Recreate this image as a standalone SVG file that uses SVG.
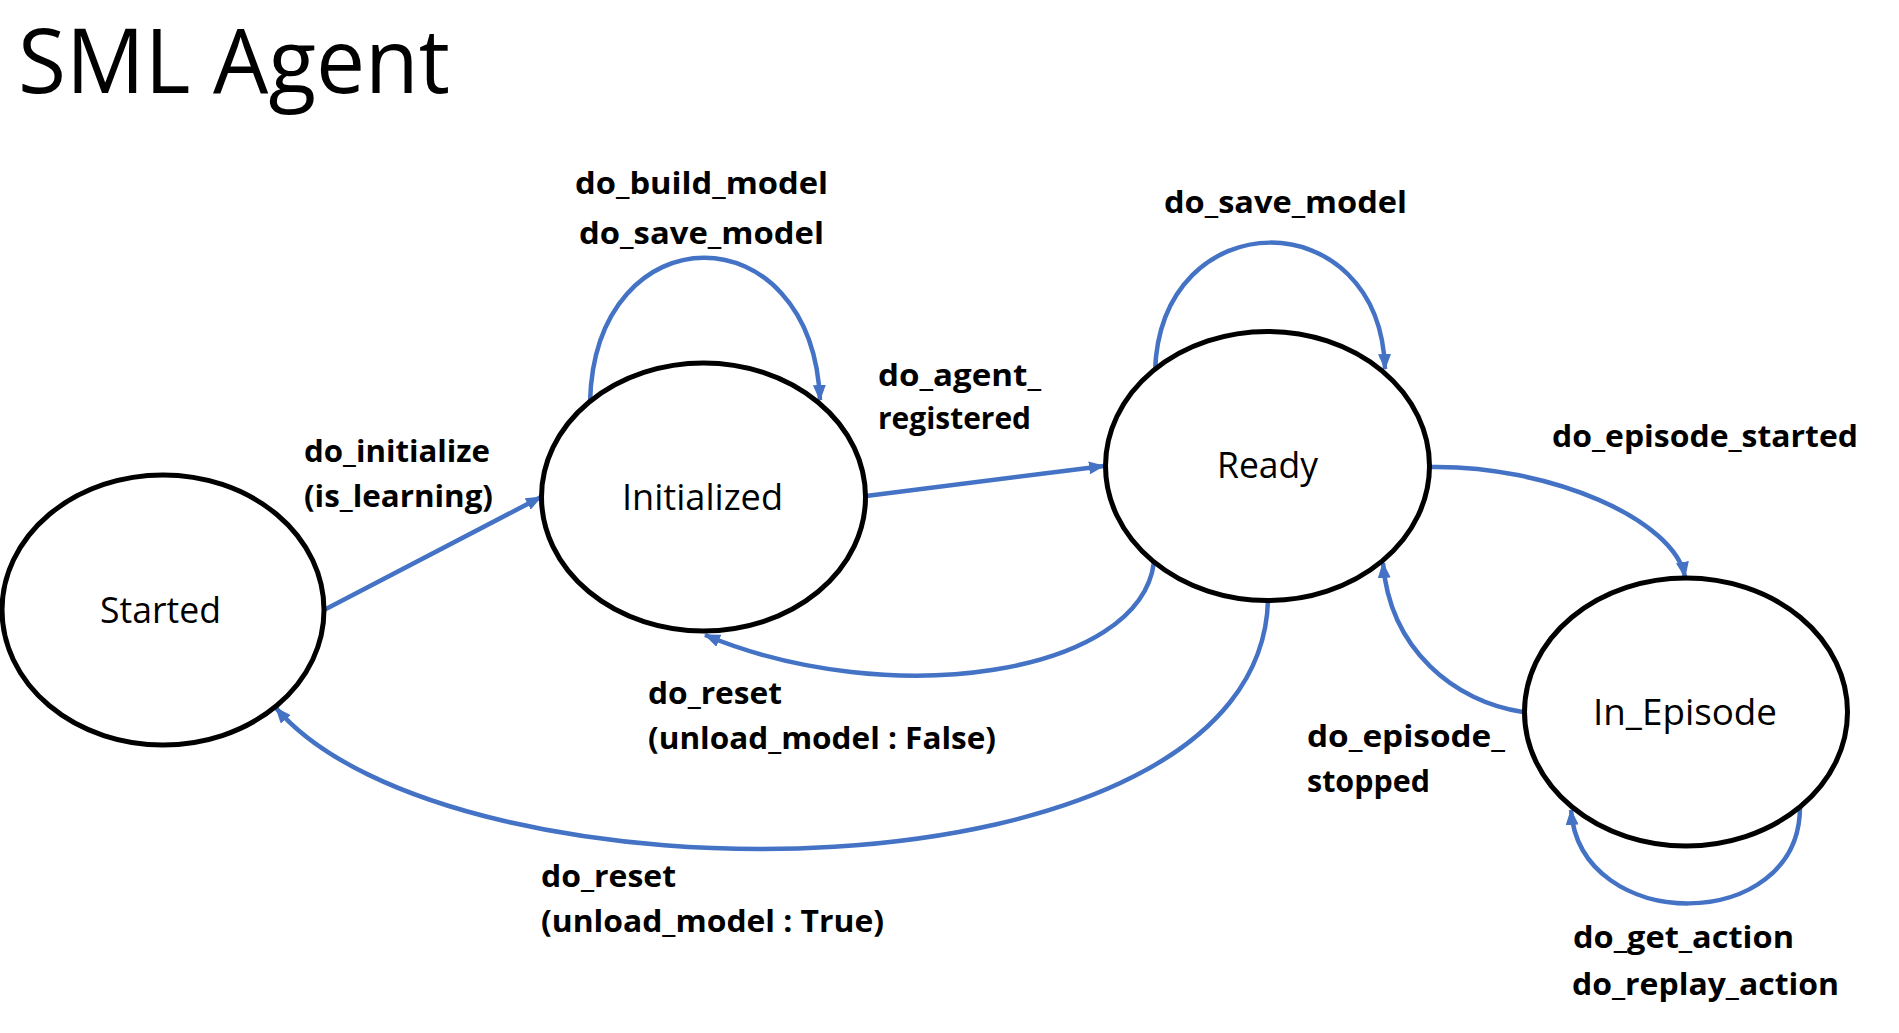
<svg xmlns="http://www.w3.org/2000/svg" width="1899" height="1033" viewBox="0 0 1899 1033">
<style>
.node ellipse{fill:#fff;stroke:#000;stroke-width:5}
.nlabel{font-family:"Open Sans","Noto Sans","Liberation Sans",sans-serif;font-size:36px;fill:#000}
.elabel{font-family:"Open Sans","Noto Sans","Liberation Sans",sans-serif;font-size:30px;font-weight:bold;fill:#000}
.title{font-family:"Open Sans","Noto Sans","Liberation Sans",sans-serif;font-size:90px;fill:#000}
.edge{fill:none;stroke:#4472C4;stroke-width:4.5;marker-end:url(#arr)}
</style>
<defs>
<marker id="arr" viewBox="0 0 16 13" refX="15" refY="6.5" markerWidth="16" markerHeight="13" markerUnits="userSpaceOnUse" orient="auto">
<path d="M0,0 L16,6.5 L0,13 Z" fill="#4472C4"/>
</marker>
</defs>
<rect width="1899" height="1033" fill="#fff"/>
<text class="title" x="18" y="93" textLength="432" lengthAdjust="spacingAndGlyphs">SML Agent</text>

<g id="connectors">
<path class="edge" d="M324,610 L541,497"/>
<path class="edge" d="M866,496 L1104,466"/>
<path class="edge" d="M590,402 C595,210 812,210 820,400"/>
<path class="edge" d="M1155,372 C1160,200 1380,200 1385,369"/>
<path class="edge" d="M1430,467 C1550,465 1675,520 1685,577"/>
<path class="edge" d="M1523,712 C1455,702 1390,650 1383,563"/>
<path class="edge" d="M1154,562 C1140,675 890,712 705,635"/>
<path class="edge" d="M1268,600 C1260,910 450,912 276,708"/>
<path class="edge" d="M1800,807 C1800,935 1580,935 1571,810"/>
</g>

<g id="node-started" class="node">
<ellipse cx="163" cy="610" rx="161" ry="135"/>
<text class="nlabel" x="100" y="623" textLength="121" lengthAdjust="spacingAndGlyphs">Started</text>
</g>
<g id="node-initialized" class="node">
<ellipse cx="703.5" cy="497" rx="162" ry="134"/>
<text class="nlabel" x="622" y="510" textLength="161" lengthAdjust="spacingAndGlyphs">Initialized</text>
</g>
<g id="node-ready" class="node">
<ellipse cx="1267.5" cy="466" rx="162" ry="134.5"/>
<text class="nlabel" x="1217" y="478" textLength="101" lengthAdjust="spacingAndGlyphs">Ready</text>
</g>
<g id="node-in-episode" class="node">
<ellipse cx="1686" cy="712" rx="161.5" ry="134"/>
<text class="nlabel" x="1593" y="725" textLength="184" lengthAdjust="spacingAndGlyphs">In_Episode</text>
</g>

<g id="edge-labels">
<text class="elabel" x="575" y="194" textLength="253" lengthAdjust="spacingAndGlyphs">do_build_model</text>
<text class="elabel" x="579" y="244" textLength="245" lengthAdjust="spacingAndGlyphs">do_save_model</text>
<text class="elabel" x="1164" y="213" textLength="243" lengthAdjust="spacingAndGlyphs">do_save_model</text>
<text class="elabel" x="878" y="386" textLength="163" lengthAdjust="spacingAndGlyphs">do_agent_</text>
<text class="elabel" x="878" y="429" textLength="153" lengthAdjust="spacingAndGlyphs">registered</text>
<text class="elabel" x="304" y="462" textLength="186" lengthAdjust="spacingAndGlyphs">do_initialize</text>
<text class="elabel" x="304" y="507" textLength="189" lengthAdjust="spacingAndGlyphs">(is_learning)</text>
<text class="elabel" x="648" y="704" textLength="134" lengthAdjust="spacingAndGlyphs">do_reset</text>
<text class="elabel" x="648" y="749" textLength="348" lengthAdjust="spacingAndGlyphs">(unload_model : False)</text>
<text class="elabel" x="541" y="887" textLength="135" lengthAdjust="spacingAndGlyphs">do_reset</text>
<text class="elabel" x="541" y="932" textLength="343" lengthAdjust="spacingAndGlyphs">(unload_model : True)</text>
<text class="elabel" x="1552" y="447" textLength="306" lengthAdjust="spacingAndGlyphs">do_episode_started</text>
<text class="elabel" x="1307" y="747" textLength="198" lengthAdjust="spacingAndGlyphs">do_episode_</text>
<text class="elabel" x="1307" y="792" textLength="123" lengthAdjust="spacingAndGlyphs">stopped</text>
<text class="elabel" x="1573" y="948" textLength="221" lengthAdjust="spacingAndGlyphs">do_get_action</text>
<text class="elabel" x="1572" y="995" textLength="267" lengthAdjust="spacingAndGlyphs">do_replay_action</text>
</g>
</svg>
